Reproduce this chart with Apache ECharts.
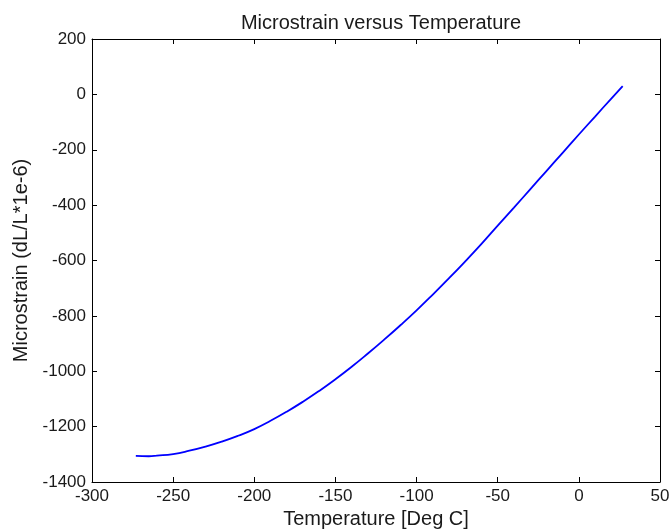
<!DOCTYPE html>
<html>
<head>
<meta charset="utf-8">
<script src="https://cdn.jsdelivr.net/npm/echarts@6/dist/echarts.min.js"></script>
<style>
  html, body { margin: 0; padding: 0; background: #fff; }
  #chart { width: 669px; height: 529px; }
</style>
</head>
<body>
<div id="chart"></div>
<script>
// temperature in Deg C
const temperature = [-273, -265, -260, -250, -240, -230, -220, -210, -200, -190, -180, -170, -160, -150, -140, -130, -120, -110, -100, -90, -80, -70, -60, -50, -40, -30, -20, -10, 0, 10, 20, 27]
// microstrain (dL/L*1e-6)
const microstrain = [-1306, -1307, -1305, -1299, -1287, -1272, -1254, -1233, -1209, -1179, -1146, -1110, -1071, -1029, -984, -936, -886, -834, -780, -723, -664, -603, -540, -474, -409, -343, -277, -211, -145, -80, -15, 30]

const chart = echarts.init(document.getElementById('chart'))

const font = 'Liberation Sans, Arial, sans-serif'

// 内向刻度，四边都有（类似 MATLAB 的 box on）
const boxAxis = (extra) => Object.assign({
  type: 'value',
  axisLine: { show: true, onZero: false, lineStyle: { color: '#000', width: 1 } },
  axisTick: { show: true, inside: true, length: 5, lineStyle: { color: '#000' } },
  splitLine: { show: false }
}, extra)

const option = {
  animation: false,
  backgroundColor: '#fff',
  title: {
    text: 'Microstrain versus Temperature',
    left: 376,
    top: 8,
    textAlign: 'center',
    textStyle: { fontFamily: font, fontSize: 20, fontWeight: 'normal', color: '#1a1a1a' }
  },
  grid: { left: 92, right: 9, top: 39, bottom: 47, outerBoundsMode: 'none', containLabel: false },
  xAxis: [
    boxAxis({
      min: -300, max: 50, interval: 50,
      position: 'bottom',
      name: 'Temperature [Deg C]',
      nameLocation: 'middle',
      nameGap: 25,
      nameTextStyle: { fontFamily: font, fontSize: 20, color: '#1a1a1a' },
      axisLabel: { margin: 6, fontFamily: font, fontSize: 17, color: '#1a1a1a' }
    }),
    boxAxis({
      min: -300, max: 50, interval: 50,
      position: 'top',
      axisLabel: { show: false }
    })
  ],
  yAxis: [
    boxAxis({
      min: -1400, max: 200, interval: 200,
      position: 'left',
      name: 'Microstrain (dL/L*1e-6)',
      nameLocation: 'middle',
      nameGap: 53,
      nameTextStyle: { fontFamily: font, fontSize: 20, color: '#1a1a1a' },
      axisLabel: { margin: 6, fontFamily: font, fontSize: 17, color: '#1a1a1a', formatter: v => String(v) }
    }),
    boxAxis({
      min: -1400, max: 200, interval: 200,
      position: 'right',
      axisLabel: { show: false }
    })
  ],
  series: [{
    type: 'line',
    data: temperature.map((t, i) => [t, microstrain[i]]),
    smooth: 0.5,
    showSymbol: false,
    lineStyle: { color: '#0000ff', width: 1.8 }
  }]
}

chart.setOption(option)
</script>
</body>
</html>
